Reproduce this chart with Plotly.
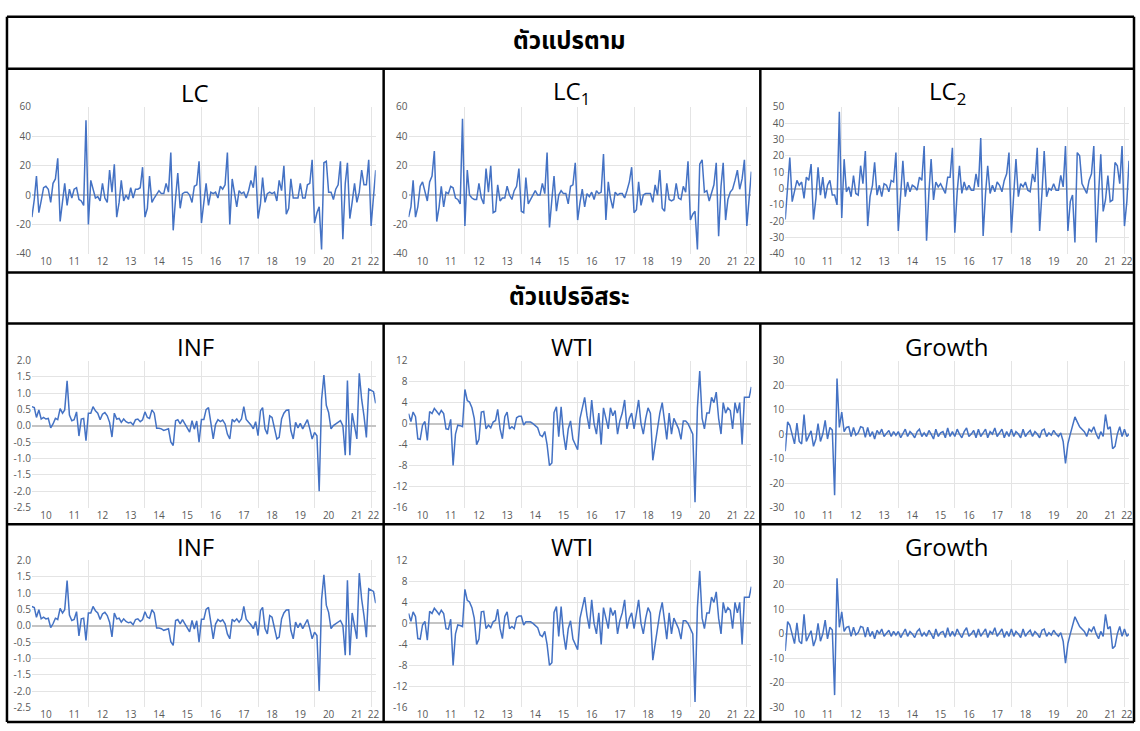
import plotly.graph_objects as go
import pandas as pd

# ---------------- data (monthly, Jan 2010 - Mar 2022) ----------------
months = pd.date_range("2010-01-01", periods=147, freq="MS")

LC = [-15, -3, 13, -12, -4, 5, 6, 4, -5, 8, 11, 25,
      -18, -5, 8, -7, 4, -2, 4, 5, -3, -4, -7, 51,
      -20, 10, 5, -2, -1, -4, 8, -2, -5, 17, 2, 21,
      -15, -5, 10, -4, 0, -3, 5, -2, 4, 4, 5, 19,
      -15, -9, 13, -5, -2, 1, 3, 1, 1, 8, 2, 29,
      -24, -2, 15, -9, 1, 2, 2, 0, -5, 6, 7, 23,
      -19, -5, 8, -7, 2, 1, 2, -2, 6, 4, 7, 29,
      -20, 11, 2, -8, 3, 1, 2, -2, 3, 10, 5, 20,
      -16, -6, 12, -5, 1, 2, 1, 2, -4, 10, 3, 20,
      -13, -9, 11, -2, -2, -2, 8, -2, -2, 7, 8, 24,
      -19, -12, -8, -37, 22, 23, 2, 2, -3, 4, 7, 23,
      -30, 8, 22, -16, -5, 8, -5, 2, 17, 7, 7, 24,
      -21, -2, 17]

LC1 = [-15, -8, 10, -15, -8, 6, 9, 3, -4, 9, 13, 30,
       -18, -8, 6, -8, 2, 1, 6, 5, -2, -3, -6, 52,
       -21, 17, 0, -2, -3, -3, 8, -2, -6, 18, 2, 20,
       -12, -11, 7, -4, -2, -2, 6, 0, -3, 3, 6, 18,
       -11, -12, 12, -6, -3, -1, 3, 0, 0, 8, 1, 29,
       -22, -3, 13, -11, 0, 3, 1, 1, -6, 6, 7, 22,
       -17, -5, 4, -8, 1, -1, 2, -3, 3, 1, 2, 28,
       -17, 9, -2, -9, 2, 0, 1, 1, -2, 3, 9, 19,
       -12, -10, 9, -7, 0, 1, 1, 1, -5, 7, 0, 17,
       -9, -11, 8, -3, -4, -3, 8, -2, -3, 6, 2, 23,
       -17, -13, -11, -37, 21, 24, 2, 3, -4, 2, 7, 22,
       -28, 6, 22, -17, -3, 2, 4, 10, 17, 4, 11, 24,
       -21, -2, 16]

LC2 = [-19, 0, 19, -8, -2, 5, 2, 4, -6, 7, 5, 15,
       -19, -6, 13, -4, 7, -6, 2, 5, -4, -4, -10, 47,
       -18, 18, -2, 1, -5, 8, -3, -4, 14, 3, 23, -23,
       -5, 2, 16, -4, 2, -5, 3, 2, -2, 5, 4, 22,
       -26, -2, 17, -5, 4, -2, 2, 1, -1, 7, 5, 26,
       -32, -2, 18, -7, 4, 1, 3, 0, -3, 7, 7, 25,
       -27, -2, 14, -3, 4, -1, 2, -1, -1, 9, 1, 31,
       -29, -3, 14, -3, 2, -2, 4, 2, -2, 5, 9, 22,
       -27, -3, 18, -5, 3, 1, 4, -1, -2, 9, 4, 25,
       -26, -2, 23, -5, 0, -1, 3, -1, -1, 8, 1, 26,
       -26, -8, -4, -33, 22, 20, 3, 0, -3, 5, 9, 26,
       -33, -3, 21, -14, -7, 8, -8, -7, 16, 14, 3, 26,
       -23, -8, 17]

INF = [0.59, 0.56, 0.26, 0.49, 0.21, 0.26, 0.21, 0.23, -0.06, 0.06, 0.23, 0.19,
       0.53, 0.39, 0.49, 1.38, 0.33, 0.16, 0.19, 0.43, -0.31, 0.21, 0.23, -0.45,
       0.39, 0.39, 0.59, 0.46, 0.39, 0.19, 0.36, 0.41, 0.31, 0.11, -0.34, 0.39,
       0.21, 0.23, 0.11, 0.21, 0.13, 0.09, 0.11, 0.03, 0.19, 0.21, 0.13, 0.19,
       0.43, 0.26, 0.23, 0.49, 0.39, -0.07, -0.07, -0.09, -0.14, -0.11, -0.09, -0.49,
       -0.6, 0.16, 0.19, 0.06, 0.19, 0.06, -0.07, -0.19, 0.16, -0.1, 0.15, -0.5,
       0.2, 0.2, 0.5, 0.56, 0.1, -0.4, 0.05, 0.19, 0.13, 0.18, 0.06, -0.25,
       -0.4, 0.2, 0.13, 0.21, 0.11, 0.21, 0.59, 0.2, 0.11, 0.03, -0.09, 0.13,
       -0.3, 0.46, 0.56, -0.09, -0.25, 0.31, 0.26, -0.09, -0.4, -0.35, 0.21, 0.39,
       0.48, 0.49, -0.14, -0.4, 0.11, -0.06, 0.08, -0.09, 0.03, 0.19, -0.09, -0.4,
       -0.2, -0.3, -2.0, 0.8, 1.56, 0.63, 0.41, -0.09, 0.01, 0.06, 0.13, 0.16,
       0.01, -0.9, 1.39, -0.9, 0.39, 0.01, -0.4, 1.61, 0.81, 0.31, -0.35, 1.13,
       1.09, 1.05, 0.69]

WTI = [1.9, 0.4, 2.2, 1.3, -2.9, -3.0, -0.3, 0.4, -3.2, 2.3, 1.9, 2.9,
       2.3, 1.7, 2.5, 1.9, -1.0, -1.1, 0.8, -8.0, -2.0, -0.3, -0.4, -0.6,
       6.5, 4.4, 4.1, 3.0, 1.0, -4.0, -3.0, 2.2, 2.3, -1.0, -0.3, -0.8,
       0.3, 0.6, 2.7, -1.0, -2.9, 1.3, 2.2, -1.0, -0.6, -1.0, 1.1, 1.4,
       1.4, -0.3, 0.3, 0.3, 0.3, 0.0, -0.4, -0.8, -2.2, -2.5, -1.5, -4.0,
       -8.0, -7.5, 2.1, 3.2, -2.5, 3.2, -2.0, -5.0, -1.0, 0.5, -3.0, -4.0,
       -5.0, 1.0, 3.0, 5.0, 1.5, -1.0, 4.5, 0.0, -2.0, 2.0, -4.0, 3.0,
       1.0, -1.0, 3.0, 1.5, 2.5, -2.0, 0.5, 2.0, 4.5, -1.0, 1.0, 2.0,
       -1.0, 2.0, 4.5, 0.0, -2.0, 1.0, 3.0, 2.0, -7.0, -4.0, -1.0, 2.0,
       4.0, 0.0, -3.0, 2.0, -2.0, 1.0, 0.0, -1.0, -3.0, 0.5, 0.5, 0.0,
       -1.0, -2.0, -15.0, 3.0, 10.0, 1.0, -1.0, 2.0, 2.0, 5.0, 4.0, 6.0,
       1.0, -2.0, 4.0, 2.0, 3.0, 2.5, -1.0, 4.0, 2.0, 4.0, -4.0, 5.0,
       5.0, 5.0, 7.0]

GROWTH = [-7, 5, 3.6, 0, -4, 4.5, -3, -4, 8, -3, -1, 1.3,
          -5, -2, 4.3, -3, 0, 5.6, -2, 2.7, 1.6, -25, 22.7, 2.7,
          9, 1, 2.7, 3, -1, 2.7, -0.4, 0.5, 3, 2.7, -1.3, 2.7,
          -1, 1, -2, 1.5, 0, 2, -1, 0.5, 1.5, -1, 1, -0.5,
          1, -1.5, 0.5, 2, -1, 1, 0, -1.5, 1, 2, -1, 0.5,
          -1, 1.5, 0, -2, 2, -1, 0.5, 1, -1.5, 2.5, -1, 1,
          -1, 2, 0, -1.5, 1, 2.5, -1, 0, 1.5, -1.5, 2, -1,
          0.5, 2, -1.5, 1, 0, 2.5, -1, 0.5, 2, -1.5, 1, -1,
          2, -1, 1, 0, -1.5, 2, -1, 0.5, 1.5, -1, 1, 0,
          -1.5, 1.5, 2, -1, 0.5, -0.5, 1.5, 0, -1, 0.5, -3, -12,
          -4, 0, 4, 7, 5, 3, 2, 1, -1, 2, 1, 3,
          0, -2, 1, -1, 8, 2, 3, -6, -5, 0, 3, -1,
          2, -1, 0]

years = list(range(2010, 2023))
tick_pos = [pd.Timestamp(f"{y}-07-01") for y in years[:-1]] + [pd.Timestamp("2022-02-01")]
tick_txt = [str(y)[2:] for y in years]
grid_pos = [pd.Timestamp(f"{y}-01-01") for y in range(2012, 2023, 2)]

W, H = 1140, 731
def fx(x): return x / W
def fy(y): return 1 - y / H

BLUE = "#4472C4"
TICKFONT = dict(family="Open Sans, Noto Sans, sans-serif", size=10, color="#595959")

rows = {"r2": (101, 251), "r4": (360, 510), "r5": (564, 714)}
cols = {"c1": (32, 377), "c2": (410, 754), "c3": (788, 1133)}

def ticks(lo, hi, step, fmt):
    vals, v = [], lo
    while v <= hi + 1e-9:
        vals.append(round(v, 6)); v += step
    return vals, [fmt.format(t) for t in vals]

inf_t = ticks(-2.5, 2.0, 0.5, "{:.1f}")
panels = [
    (LC, "LC", "c1", "r2", [-40, 60], ticks(-40, 60, 20, "{:.0f}")),
    (LC1, "LC<sub>1</sub>", "c2", "r2", [-40, 60], ticks(-40, 60, 20, "{:.0f}")),
    (LC2, "LC<sub>2</sub>", "c3", "r2", [-40, 50], ticks(-40, 50, 10, "{:.0f}")),
    (INF, "INF", "c1", "r4", [-2.5, 2.0], inf_t),
    (WTI, "WTI", "c2", "r4", [-16, 12], ticks(-16, 12, 4, "{:.0f}")),
    (GROWTH, "Growth", "c3", "r4", [-30, 30], ticks(-30, 30, 10, "{:.0f}")),
    (INF, "INF", "c1", "r5", [-2.5, 2.0], inf_t),
    (WTI, "WTI", "c2", "r5", [-16, 12], ticks(-16, 12, 4, "{:.0f}")),
    (GROWTH, "Growth", "c3", "r5", [-30, 30], ticks(-30, 30, 10, "{:.0f}")),
]

fig = go.Figure()
cells_x = {"c1": (7, 385), "c2": (385, 763), "c3": (763, 1138)}
title_y = {"r2": 86, "r4": 346, "r5": 550}
annotations = []
for i, (ser, title, c, r, yr, (tv, tt)) in enumerate(panels, start=1):
    sfx = "" if i == 1 else str(i)
    fig.add_trace(go.Scatter(x=months, y=ser, mode="lines",
                             line=dict(color=BLUE, width=1.5),
                             xaxis="x" + sfx, yaxis="y" + sfx, showlegend=False,
                             hoverinfo="skip"))
    x0, x1 = cols[c]
    y0, y1 = rows[r]
    fig.layout["xaxis" + sfx] = dict(
        domain=[fx(x0), fx(x1)], anchor="y" + sfx,
        range=[months[0], months[-1]], type="date",
        tickmode="array", tickvals=tick_pos, ticktext=tick_txt,
        showgrid=False, zeroline=False, showline=False, ticks="",
        tickfont=TICKFONT, tickangle=0,
        minor=dict(tickmode="array", tickvals=grid_pos, showgrid=True,
                   gridcolor="#e4e4e4", gridwidth=1, ticks=""),
    )
    fig.layout["yaxis" + sfx] = dict(
        domain=[fy(y1), fy(y0)], anchor="x" + sfx, range=yr,
        tickmode="array", tickvals=tv, ticktext=tt,
        showgrid=True, gridcolor="#e4e4e4", gridwidth=1,
        zeroline=True, zerolinecolor="#c4c4c4", zerolinewidth=1.5,
        showline=False, ticks="", tickfont=TICKFONT,
    )
    cx0, cx1 = cells_x[c]
    annotations.append(dict(text=title, x=fx((cx0 + cx1) / 2), y=fy(title_y[r]),
                            xref="paper", yref="paper", showarrow=False,
                            xanchor="center", yanchor="middle",
                            font=dict(family="Open Sans, Noto Sans, sans-serif", size=24, color="#000")))

THAI = "Noto Sans Thai, Tahoma, Leelawadee UI, sans-serif"
annotations.append(dict(text="<b>ตัวแปรตาม</b>", x=fx(572), y=fy(35), xref="paper", yref="paper",
                        showarrow=False, xanchor="center", yanchor="middle",
                        font=dict(family=THAI, size=24, color="#000")))
annotations.append(dict(text="<b>ตัวแปรอิสระ</b>", x=fx(572), y=fy(296), xref="paper", yref="paper",
                        showarrow=False, xanchor="center", yanchor="middle",
                        font=dict(family=THAI, size=24, color="#000")))

shapes = []
LW = 2.5
def line(x0, y0, x1, y1):
    shapes.append(dict(type="line", xref="paper", yref="paper",
                       x0=fx(x0), y0=fy(y0), x1=fx(x1), y1=fy(y1),
                       line=dict(color="#000", width=LW)))
line(7, 9, 1138, 9); line(7, 729, 1138, 729); line(7, 9, 7, 729); line(1138, 9, 1138, 729)
for yy in (62, 270, 322, 527):
    line(7, yy, 1138, yy)
for xx in (385, 763):
    line(xx, 62, xx, 270)
    line(xx, 322, xx, 729)

fig.update_layout(width=W, height=H, margin=dict(l=0, r=0, t=0, b=0),
                  paper_bgcolor="white", plot_bgcolor="white",
                  annotations=annotations, shapes=shapes)
fig.write_html("out.html", config={"displayModeBar": False},
               post_script="document.body.style.margin='0px';document.body.style.overflow='hidden';")
